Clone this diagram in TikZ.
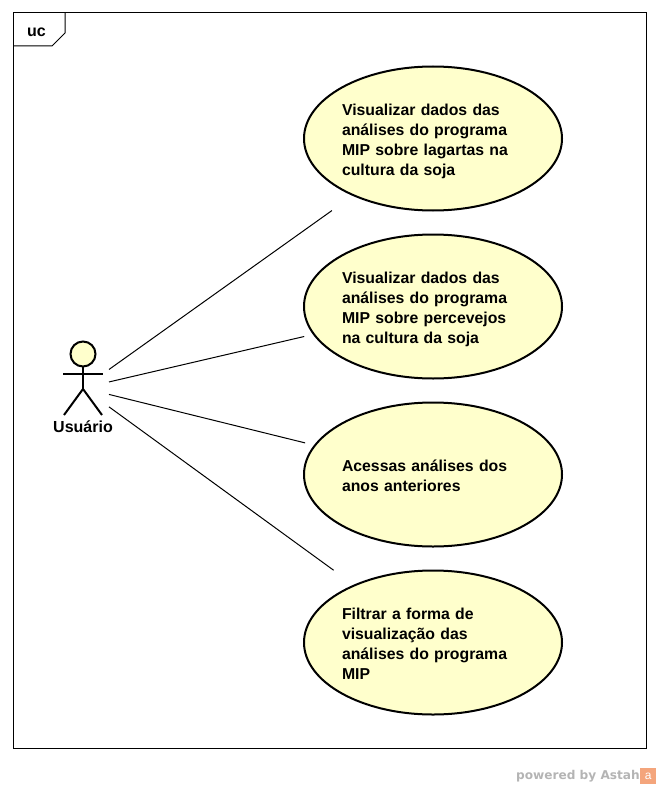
\documentclass[tikz,border=0pt]{standalone}
\usepackage{fontspec}
\setmainfont{Liberation Sans}
\newfontfamily\markfont{DejaVu Sans}
\usetikzlibrary{shapes.geometric,positioning}
\definecolor{ucfill}{HTML}{FFFFCC}
\definecolor{markgray}{HTML}{B4B4B4}
\definecolor{markorange}{HTML}{F4A57C}
\tikzset{
  usecase/.style={ellipse,draw,line width=1.5pt,fill=ucfill,inner sep=0pt,
    minimum width=193.5pt,minimum height=108pt,text width=136.5pt,align=left,
    font=\fontsize{11.85}{15}\selectfont\bfseries,
    execute at begin node={\rule{0pt}{#1}}},
  usecase/.default=13pt,
  assoc/.style={line width=.75pt},
  actorline/.style={line width=1.5pt},
  plain/.style={font=\fontsize{12}{15}\selectfont\bfseries,inner sep=0pt}
}
\begin{document}
\begin{tikzpicture}
[x=.75pt,y=-.75pt]
\useasboundingbox (0,0) rectangle (660,788);
%% frame
\draw[line width=.75pt] (13,13) rectangle (646,748);
\draw[line width=.75pt] (13,46) -- (52,46) -- (65,33) -- (65,13);
\node[plain] (frametitle) at (36.5,32) {uc};
%% actor
\node[rectangle,inner sep=0pt,outer sep=0pt,minimum width=39pt,minimum height=60pt] (user) at (83,388) {};
\draw[actorline,fill=ucfill] (83,354) circle (12.5);
\draw[actorline] (83,366.5) -- (83,389);
\draw[actorline] (63,374) -- (103,374);
\draw[actorline] (64,415) -- (83,389) -- (102,415);
\node[plain] (userlabel) at (83,426.5) {Usuário};
%% use cases
\node[usecase] (lagartas) at (433,138.5) {Visualizar dados das\\análises do programa\\MIP sobre lagartas na\\cultura da soja};
\node[usecase] (percevejos) at (433,306.5) {Visualizar dados das\\análises do programa\\MIP sobre percevejos\\na cultura da soja};
\node[usecase=10.1pt] (anteriores) at (433,474.5) {Acessas análises dos\\anos anteriores};
\node[usecase=10pt] (filtrar) at (433,642.5) {Filtrar a forma de\\visualização das\\análises do programa\\MIP};
%% edges
\draw[assoc,shorten >=19pt] (user) -- (lagartas);
\draw[assoc,shorten >=6.7pt] (user) -- (percevejos);
\draw[assoc,shorten >=6.9pt] (user) -- (anteriores);
\draw[assoc,shorten >=18.5pt] (user) -- (filtrar);
%% watermark
\node[inner sep=0pt,text=markgray,font=\markfont\fontsize{9.1}{11}\selectfont\bfseries,left=0pt of {(640,776)}] (powered) {powered by Astah};
\node[fill=markorange,text=white,inner sep=0pt,minimum size=12pt,font=\fontsize{9}{9}\selectfont,right=0pt of powered] (astahlogo) {a};
\end{tikzpicture}
\end{document}
